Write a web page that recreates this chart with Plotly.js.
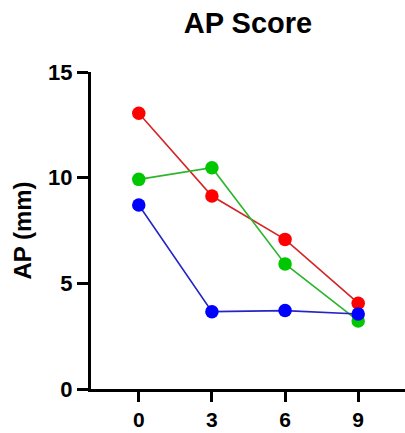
<!DOCTYPE html>
<html>
<head>
<meta charset="utf-8">
<script src="https://cdn.plot.ly/plotly-3.0.1.min.js"></script>
<style>html,body{margin:0;padding:0;background:#fff;}#chart{width:405px;height:433px;}</style>
</head>
<body>
<div id="chart"></div>
<script>
const timepoints = [0, 3, 6, 9];
const redValues = [13.05, 9.13, 7.08, 4.06];
const greenValues = [9.92, 10.47, 5.92, 3.22];
const blueValues = [8.71, 3.66, 3.71, 3.55];
const yTicks = [0, 5, 10, 15];

const series = [
  {y: redValues, marker: '#ff0000', line: '#d42424'},
  {y: greenValues, marker: '#00c800', line: '#2cb52c'},
  {y: blueValues, marker: '#0000ff', line: '#2424c8'}
];

const traces = series.map(s => ({
  x: timepoints, y: s.y, type: 'scatter', mode: 'lines+markers',
  line: {color: s.line, width: 1.6},
  marker: {color: s.marker, size: 13.5},
  showlegend: false, cliponaxis: false
}));

const font = {family: 'Liberation Sans, Arial, sans-serif', color: '#000'};

Plotly.newPlot('chart', traces, {
  width: 405, height: 433,
  margin: {l: 91, r: 0, t: 72, b: 44},
  paper_bgcolor: '#fff', plot_bgcolor: '#fff',
  title: {text: '<b>AP Score</b>', font: {...font, size: 29}, xref: 'paper', x: 0.5, xanchor: 'center', yref: 'container', y: 1 - 23/433, yanchor: 'middle'},
  xaxis: {
    range: [-1.96, 10.92], tickvals: timepoints, ticktext: timepoints.map(v => '<b>' + v + '</b>'),
    showgrid: false, zeroline: false, showline: true, linecolor: '#000', linewidth: 3,
    ticks: 'outside', ticklen: 10, tickwidth: 3, tickcolor: '#000',
    tickfont: {...font, size: 21}
  },
  yaxis: {
    range: [0, 15], tickvals: yTicks, ticktext: yTicks.map(v => '<b>' + v + '</b>'),
    showgrid: false, zeroline: false, showline: true, linecolor: '#000', linewidth: 3,
    ticks: 'outside', ticklen: 11, tickwidth: 3, tickcolor: '#000',
    tickfont: {...font, size: 22},
    title: {text: '<b>AP (mm)</b>', font: {...font, size: 24}, standoff: 10}
  }
}, {staticPlot: true});
</script>
</body>
</html>
